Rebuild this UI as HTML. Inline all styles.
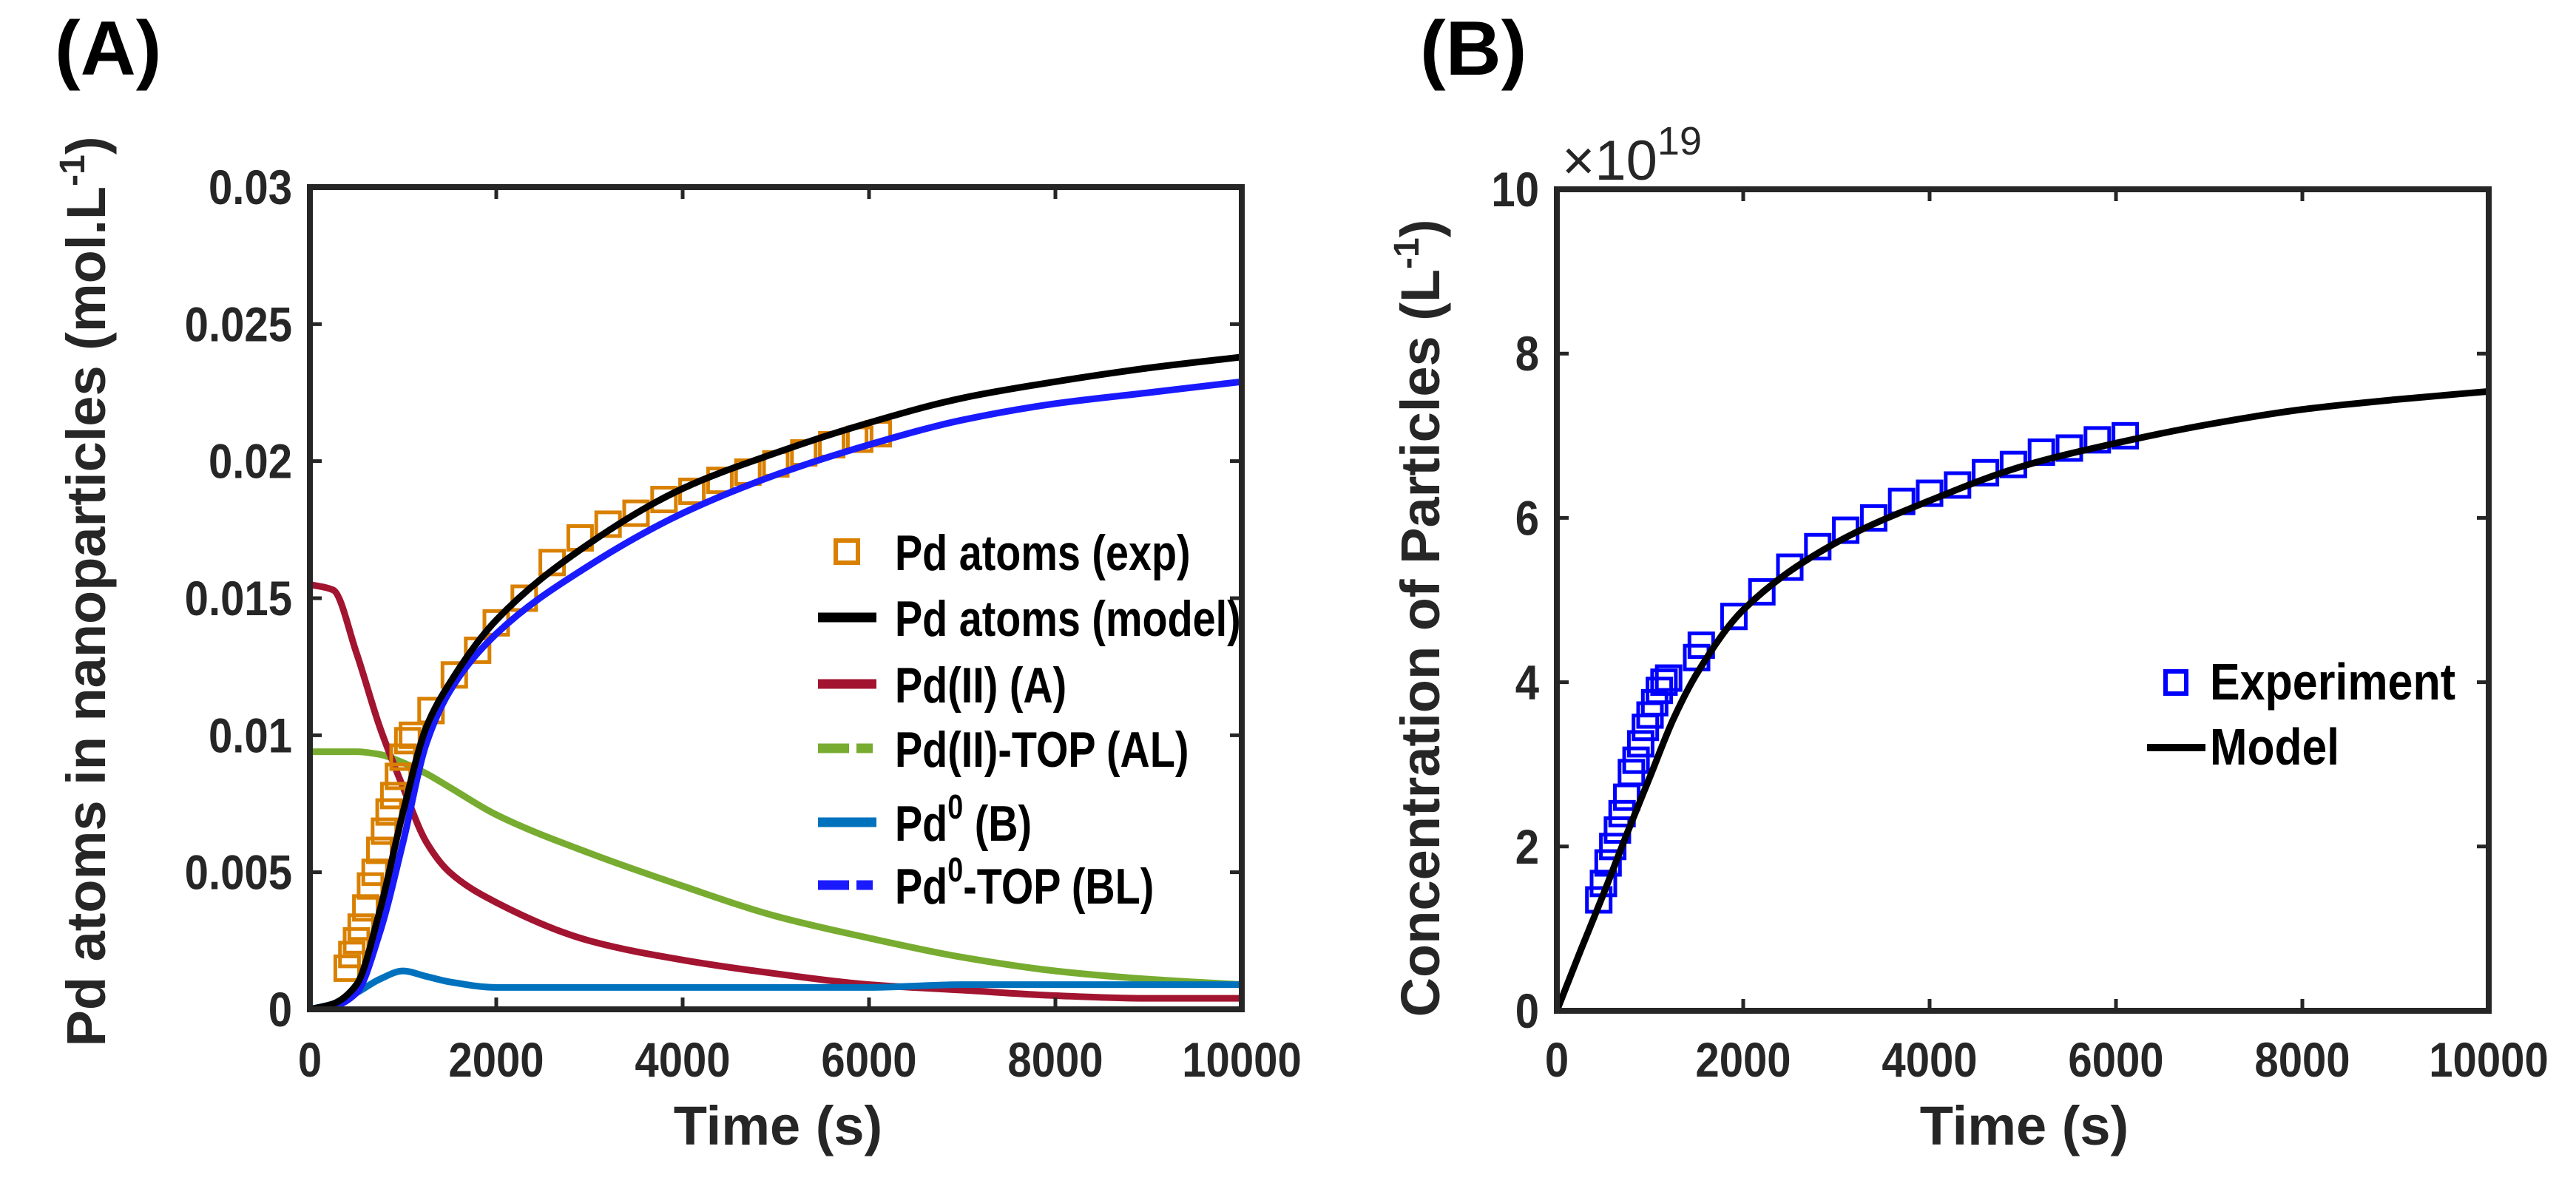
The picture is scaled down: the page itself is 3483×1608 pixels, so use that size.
<!DOCTYPE html>
<html><head><meta charset="utf-8"><style>
html,body{margin:0;padding:0;background:#fff;}
svg{display:block;font-family:"Liberation Sans",Arial,sans-serif;}
</style></head><body>
<svg id="fig" width="3483" height="1608" viewBox="0 0 3483 1608">
<rect width="3483" height="1608" fill="#fff"/>
<text x="74" y="101" font-size="104" font-weight="bold" fill="#000">(A)</text>
<text x="1920" y="101" font-size="104" font-weight="bold" fill="#000">(B)</text>
<g id="chartA"></g>
<g id="chartB"></g>
</svg>
<script>
// ---- Chart A data ----
const timeA = [0,250,500,750,1000,1250,1500,2000,3000,4000,5000,6000,7000,8000,9000,10000];
const pdModel = [0,0.0002,0.0009,0.0036,0.0072,0.0103,0.0119,0.0142,0.0170,0.0190,0.0203,0.0214,0.0223,0.0229,0.0234,0.0238];
const pdTop = [0,0.0001,0.0006,0.0028,0.0061,0.0097,0.0116,0.0137,0.0162,0.0181,0.0195,0.0206,0.0215,0.0221,0.0225,0.0229];
const pdII = [0.0155,0.0153,0.0130,0.0103,0.0081,0.0061,0.0050,0.0039,0.0025,0.0018,0.0013,0.0009,0.0007,0.0005,0.0004,0.0004];
const pdIITop = [0.0094,0.0094,0.0094,0.0093,0.0090,0.0086,0.0081,0.0071,0.0057,0.0045,0.0034,0.0026,0.0019,0.0014,0.0011,0.0009];
const pd0 = [0,0.0002,0.0006,0.0011,0.0014,0.0012,0.0010,0.0008,0.0008,0.0008,0.0008,0.0008,0.0009,0.0009,0.0009,0.0009];
const expTimeA = [400,450,500,550,600,650,700,750,800,850,900,950,1000,1050,1100,1300,1550,1800,2000,2300,2600,2900,3200,3500,3800,4100,4400,4700,5000,5300,5600,5900,6100];
const expPdA = [0.0015,0.0020,0.0025,0.0030,0.0037,0.0045,0.0050,0.0058,0.0065,0.0072,0.0078,0.0085,0.0092,0.0098,0.0100,0.0109,0.0122,0.0131,0.0141,0.0150,0.0163,0.0172,0.0177,0.0181,0.0186,0.0189,0.0193,0.0196,0.0199,0.0203,0.0206,0.0208,0.0210];
const xTicksA = [0,2000,4000,6000,8000,10000];
const yTicksA = [0,0.005,0.01,0.015,0.02,0.025,0.03];
const yTickLabelsA = ["0","0.005","0.01","0.015","0.02","0.025","0.03"];
// ---- Chart B data ----
const timeB = [0,250,500,750,1000,1250,1500,2000,3000,4000,5000,6000,7000,8000,9000,10000];
const modelB = [0,0.72,1.42,2.15,2.85,3.55,4.10,4.88,5.70,6.21,6.63,6.91,7.14,7.32,7.44,7.54];
const expTimeB = [450,500,550,600,650,700,750,800,850,900,950,1000,1050,1100,1150,1200,1500,1550,1900,2200,2500,2800,3100,3400,3700,4000,4300,4600,4900,5200,5500,5800,6100];
const expB = [1.35,1.55,1.80,2.00,2.20,2.40,2.60,2.90,3.05,3.25,3.45,3.60,3.75,3.90,4.00,4.05,4.30,4.45,4.80,5.10,5.40,5.65,5.85,6.00,6.20,6.30,6.40,6.55,6.65,6.80,6.85,6.95,7.00];
const xTicksB = [0,2000,4000,6000,8000,10000];
const yTicksB = [0,2,4,6,8,10];

const NS="http://www.w3.org/2000/svg";
function mk(tag,attrs,parent){const e=document.createElementNS(NS,tag);for(const k in attrs)e.setAttribute(k,attrs[k]);parent.appendChild(e);return e;}
// monotone cubic (Fritsch-Carlson) in pixel space
function smooth(pts){
  const n=pts.length, dx=[], m=[], t=[];
  for(let i=0;i<n-1;i++){dx[i]=pts[i+1][0]-pts[i][0];m[i]=(pts[i+1][1]-pts[i][1])/dx[i];}
  t[0]=m[0];t[n-1]=m[n-2];
  for(let i=1;i<n-1;i++){ if(m[i-1]*m[i]<=0) t[i]=0; else { const w1=2*dx[i]+dx[i-1], w2=dx[i]+2*dx[i-1]; t[i]=(w1+w2)/(w1/m[i-1]+w2/m[i]); } }
  let d="M"+pts[0][0]+","+pts[0][1];
  for(let i=0;i<n-1;i++){const h=dx[i]/3;d+=" C"+(pts[i][0]+h)+","+(pts[i][1]+t[i]*h)+" "+(pts[i+1][0]-h)+","+(pts[i+1][1]-t[i+1]*h)+" "+pts[i+1][0]+","+pts[i+1][1];}
  return d;
}
function sx(el,x,y,s){el.setAttribute("x",0);el.setAttribute("y",0);el.setAttribute("transform",`translate(${x},${y}) scale(${s},1)`);}

function axesFrame(g,L,T,R,B,xs,ys,xTicks,yTicks,yLabels){
  const ax="#262626";
  for(const t of xTicks){const x=xs(t);
    const tk=mk("path",{d:`M${x},${B}V${B-16}M${x},${T}V${T+16}`,stroke:ax,"stroke-width":5},g);
    
    
    const lb=mk("text",{"font-size":66,"font-weight":"bold",fill:ax,"text-anchor":"middle"},g);lb.textContent=t;
    sx(lb,x,1456,0.88);
    
    
  }
  yTicks.forEach((v,i)=>{const y=ys(v);
    const tk=mk("path",{d:`M${L},${y}H${L+16}M${R},${y}H${R-16}`,stroke:ax,"stroke-width":5},g);
    
    
    const lb=mk("text",{"font-size":66,"font-weight":"bold",fill:ax,"text-anchor":"end"},g);lb.textContent=yLabels[i];
    sx(lb,L-24,y+23,0.88);
    
    
  });
  const fr=mk("rect",{x:L,y:T,width:R-L,height:B-T,fill:"none",stroke:ax,"stroke-width":8},g);
  
  
}
function line(g,xs,ys,X,Y,color,name,w){const pts=X.map((t,i)=>[xs(t),ys(Y[i])]);const p=mk("path",{d:smooth(pts),fill:"none",stroke:color,"stroke-width":w||9,"stroke-linejoin":"round"},g);
  
  }
function squares(g,xs,ys,X,Y,color,name,s){X.forEach((t,i)=>{const r=mk("rect",{x:xs(t)-s/2,y:ys(Y[i])-s/2,width:s,height:s,fill:"none",stroke:color,"stroke-width":5},g);
  
  });}

// ---- Chart A ----
(function(){
  const g=document.getElementById("chartA");
  const L=419,R=1679,T=253,B=1365;
  const xs=t=>L+t/10000*(R-L), ys=v=>B-v/0.03*(B-T);
  const clip=mk("clipPath",{id:"clipA"},g);mk("rect",{x:L,y:T,width:R-L,height:B-T},clip);
  const pg=mk("g",{"clip-path":"url(#clipA)"},g);
  line(pg,xs,ys,timeA,pdIITop,"#77AC30","line-pd-ii-top");
  line(pg,xs,ys,timeA,pdII,"#A2142F","line-pd-ii");
  line(pg,xs,ys,timeA,pd0,"#0072BD","line-pd0");
  squares(pg,xs,ys,expTimeA,expPdA,"#D98000","exp-point-a",32);
  line(pg,xs,ys,timeA,pdTop,"#1A1AFF","line-pd0-top");
  line(pg,xs,ys,timeA,pdModel,"#000000","line-pd-model");
  axesFrame(g,L,T,R,B,xs,ys,xTicksA,yTicksA,yTickLabelsA);
  const tt=mk("text",{x:1052,y:1548,"font-size":74,"font-weight":"bold",fill:"#262626","text-anchor":"middle"},g);tt.textContent="Time (s)";
  
  
  const yt=mk("text",{x:0,y:0,"font-size":74,"font-weight":"bold",fill:"#262626","text-anchor":"middle",transform:"translate(142,800) rotate(-90)"},g);
  yt.innerHTML='Pd atoms in nanoparticles (mol.L<tspan font-size="48" dy="-28">-1</tspan><tspan dy="28">)</tspan>';
  
  
  // legend
  const lg=mk("g",{},g);
  
  
  const rows=[["sq","#D98000","Pd atoms (exp)",746],["ln","#000","Pd atoms (model)",835],["ln","#A2142F","Pd(II) (A)",925],["dash","#77AC30","Pd(II)-TOP (AL)",1012],["ln","#0072BD","Pd0 (B)",1112],["dash","#1A1AFF","Pd0-TOP (BL)",1197]];
  rows.forEach(r=>{
    if(r[0]==="sq")mk("rect",{x:1130,y:r[3]-15,width:30,height:30,fill:"none",stroke:r[1],"stroke-width":6},lg);
    else if(r[0]==="ln")mk("path",{d:`M1106,${r[3]}H1185`,stroke:r[1],"stroke-width":13},lg);
    else mk("path",{d:`M1106,${r[3]}H1148M1158,${r[3]}H1180`,stroke:r[1],"stroke-width":13},lg);
    const t=mk("text",{"font-size":68,"font-weight":"bold",fill:"#000"},lg);
    if(r[2].startsWith("Pd0")){t.innerHTML='Pd<tspan font-size="46" dy="-30">0</tspan><tspan dy="30">'+r[2].slice(3)+'</tspan>';}
    else t.textContent=r[2];
    sx(t,1210,r[3]+25,0.82);
    
    
  });
})();

// ---- Chart B ----
(function(){
  const g=document.getElementById("chartB");
  const L=2105,R=3365,T=256,B=1367;
  const xs=t=>L+t/10000*(R-L), ys=v=>B-v/10*(B-T);
  const clip=mk("clipPath",{id:"clipB"},g);mk("rect",{x:L,y:T,width:R-L,height:B-T},clip);
  const pg=mk("g",{"clip-path":"url(#clipB)"},g);
  squares(pg,xs,ys,expTimeB,expB,"#0000FF","exp-point-b",32);
  line(pg,xs,ys,timeB,modelB,"#000000","line-model-b");
  axesFrame(g,L,T,R,B,xs,ys,xTicksB,yTicksB,yTicksB.map(String));
  const ex=mk("text",{x:2112,y:243,"font-size":76,fill:"#262626"},g);
  ex.innerHTML='×10<tspan font-size="54" dy="-34">19</tspan>';
  
  
  const tt=mk("text",{x:2737,y:1548,"font-size":74,"font-weight":"bold",fill:"#262626","text-anchor":"middle"},g);tt.textContent="Time (s)";
  
  
  const yt=mk("text",{x:0,y:0,"font-size":74,"font-weight":"bold",fill:"#262626","text-anchor":"middle",transform:"translate(1946,836) rotate(-90)"},g);
  yt.innerHTML='Concentration of Particles (L<tspan font-size="48" dy="-28">-1</tspan><tspan dy="28">)</tspan>';
  
  
  const lg=mk("g",{},g);
  
  
  mk("rect",{x:2928,y:908,width:28,height:30,fill:"none",stroke:"#0000FF","stroke-width":6},lg);
  mk("path",{d:"M2903,1011H2982",stroke:"#000","stroke-width":10},lg);
  const t1=mk("text",{x:2988,y:946,"font-size":70,"font-weight":"bold",fill:"#000",textLength:332,lengthAdjust:"spacingAndGlyphs"},lg);t1.textContent="Experiment";
  
  
  const t2=mk("text",{x:2988,y:1034,"font-size":70,"font-weight":"bold",fill:"#000",textLength:175,lengthAdjust:"spacingAndGlyphs"},lg);t2.textContent="Model";
  
  
})();
</script>
</body></html>
